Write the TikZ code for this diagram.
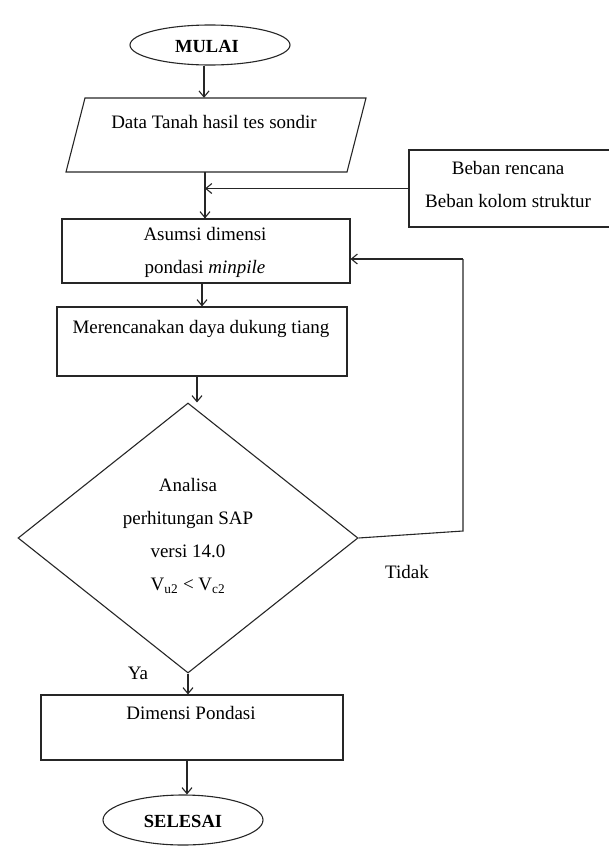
\documentclass[tikz,border=0pt]{standalone}
\usepackage{fontspec}
\setmainfont{Liberation Serif}
\usetikzlibrary{shapes.geometric,arrows.meta}
\tikzset{
  ln/.style={line width=1.1pt, draw=black!85},
  arr/.style={ln, -{Straight Barb[length=6pt,width=10pt]}},
  boxn/.style={ln, rectangle, inner sep=0pt},
  termn/.style={ln, ellipse, inner sep=0pt},
  txt/.style={font=\fontsize{19}{33}\selectfont, align=center, inner sep=0pt},
  btxt/.style={font=\fontsize{18.5}{22}\selectfont\bfseries, inner sep=0pt},
}
\begin{document}
\begin{tikzpicture}[x=1pt,y=-1pt]
\useasboundingbox (0,0) rectangle (608,846);
% shapes
\node[termn, minimum width=160pt, minimum height=40pt] (mulai) at (210,45) {};
\node[btxt] (mulaiT) at (207,46) {MULAI};
\draw[ln] (85,98) -- (366,98) -- (347,172) -- (66,172) -- cycle;
\node[inner sep=0pt, minimum width=300pt, minimum height=74pt] (data) at (216,135) {};
\node[txt] (dataT) at (214,122) {Data Tanah hasil tes sondir};
\node[boxn, minimum width=203pt, minimum height=77pt] (beban) at (510.5,188.5) {};
\node[txt] (bebanT) at (508,184) {Beban rencana\\Beban kolom struktur};
\node[boxn, minimum width=288pt, minimum height=64pt] (asumsi) at (206,251) {};
\node[txt] (asumsiT) at (205,252.5) {Asumsi dimensi\\pondasi \textit{minpile}};
\node[boxn, minimum width=290pt, minimum height=69pt] (meren) at (202,341.5) {};
\node[txt] (merenT) at (201,329) {Merencanakan daya dukung tiang};
\node[ln, diamond, inner sep=0pt, minimum width=340pt, minimum height=270pt] (dia) at (188,538) {};
\node[txt] (diaT) at (188,536) {Analisa\\perhitungan SAP\\versi 14.0\\V\textsubscript{u2} < V\textsubscript{c2}};
\node[boxn, minimum width=302pt, minimum height=65pt] (dimensi) at (192,727.5) {};
\node[txt] (dimensiT) at (191,713) {Dimensi Pondasi};
\node[termn, minimum width=160pt, minimum height=50pt] (selesai) at (183,820) {};
\node[btxt] (selesaiT) at (183,821) {SELESAI};
\node[txt] (tidak) at (407,572) {Tidak};
\node[txt] (ya) at (138,673) {Ya};
% connectors
\coordinate (d1) at (205,172);
\coordinate (lp1) at (463,531);
\coordinate (lp2) at (463,259);
\draw[arr] ([xshift=-6pt]mulai.south) -- ([xshift=-6pt]mulai.south |- data.north);
\draw[ln] (d1) -- (d1 |- asumsi.north);
\draw[arr] (d1 |- asumsi.north) ++(0,-31) -- (d1 |- asumsi.north);
\draw[arr] (beban.west) -- (beban.west -| d1);
\draw[arr] (meren.north |- asumsi.south) -- (meren.north);
\draw[arr] ([xshift=-5pt]meren.south) -- ([xshift=9pt]dia.north);
\draw[ln] (dia.east) -- (lp1) -- (lp2);
\draw[arr] (lp2) -- (lp2 -| asumsi.east);
\draw[arr] (dia.south) -- (dia.south |- dimensi.north);
\draw[arr] ([xshift=-5pt]dimensi.south) -- ([xshift=-5pt]dimensi.south |- selesai.north);
\end{tikzpicture}
\end{document}
